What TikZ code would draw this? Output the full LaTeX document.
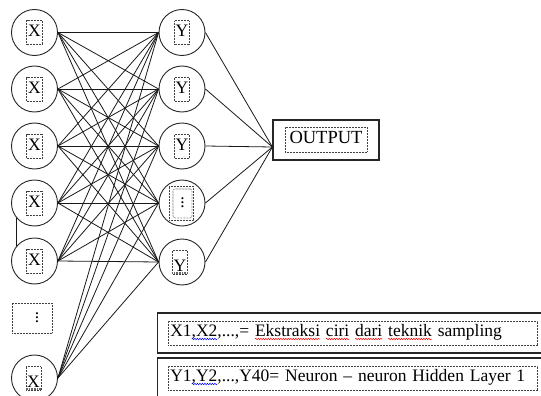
\documentclass[tikz,border=0pt]{standalone}
\usepackage{fontspec}
\setmainfont{Liberation Serif}
\usepackage{xcolor}
\usetikzlibrary{decorations.pathmorphing}

% spell-check style wavy underline
\newcommand\wavy[2]{\setbox0\hbox{#2}\rlap{\tikz[overlay, baseline=0pt, x=1pt, y=1pt]
    \draw [#1, line width=0.5pt, decorate, decoration={snake, amplitude=0.7pt, segment length=2.5pt}]
    (0,-3) -- (\the\wd0,-3);}#2}

\tikzset{
    neuron/.style={circle, draw=black!85, line width=0.9pt, minimum size=46pt, inner sep=0pt},
    tag/.style={draw=black!75, line width=0.6pt, dash pattern=on 0.6pt off 0.9pt,
                inner xsep=1pt, inner ysep=2pt, text height=14pt, text depth=6pt, minimum width=14pt},
    lowtag/.style={tag, text height=19pt, text depth=1pt},
    strip/.style={line width=2.5pt, black!60, dash pattern=on 0.8pt off 0.8pt},
    link/.style={black!90, line width=0.8pt},
    outbox/.style={draw=black!85, line width=1.2pt, minimum width=106pt, minimum height=40pt},
    legend/.style={draw=black!85, line width=1.2pt, minimum width=413pt, minimum height=40pt, anchor=west},
    legtext/.style={tag, anchor=west, text width=365pt, align=left, inner xsep=2pt,
                    text height=12pt, text depth=6pt, inner ysep=3pt}
}

\begin{document}
\begin{tikzpicture}[x=1pt, y=-1pt, font=\fontsize{17.5}{20}\selectfont]
        \clip (0,0) rectangle (541,396);

%       input layer
        \foreach \i/\y in {1/32.5, 2/89, 3/146, 4/203, 5/261}
        {
            \node [neuron] (x\i) at (34.5,\y) {};
            \node [tag, minimum width=16pt] (tx\i) at (x\i) {X};
        }
        \node [tag, minimum width=40pt, minimum height=30pt] (xdots) at (32,318) {\hspace*{10pt}$\vdots$};
        \node [neuron] (x6) at (34.5,378) {};
        \node [lowtag] (tx6) at ([xshift=-1pt]x6) {X};
        \draw [strip] ([yshift=1.5pt]tx6.south west) -- ([yshift=1.5pt]tx6.south east);

%       hidden layer
        \foreach \j/\y in {1/32.5, 2/89, 3/146, 4/203, 5/262}
        {
            \node [neuron] (y\j) at (182,\y) {};
        }
        \foreach \j in {1,2,3}
            \node [tag] (ty\j) at (y\j) {Y};
        \node [tag, minimum width=24pt, minimum height=34pt] (ty4) at (181,203) {};
        \node [tag, rounded corners=2pt, minimum width=19pt, minimum height=29pt] (ty4d) at (182.5,203.5) {$\vdots$};
        \node [lowtag] (ty5) at ([xshift=-2pt]y5) {Y};
        \draw [strip] ([yshift=1.5pt]ty5.south west) -- ([yshift=1.5pt]ty5.south east);

%       output
        \node [outbox] (out) at (326,140) {};
        \node [tag, inner xsep=2pt, minimum width=82pt, minimum height=25pt,
               font=\fontsize{18.5}{22}\selectfont] (tout) at (326,139.5) {OUTPUT};
        \coordinate (outin) at ([yshift=-7pt]out.west);

        \foreach \i in {1,...,6}
            \foreach \j in {1,...,5}
                \draw [link] (x\i.east) -- (y\j.west);
        \foreach \j in {1,...,5}
            \draw [link] (y\j.east) -- (outin);
        \draw [link] (x4.220) -- (x5.140);

%       legend
        \node [legend] (leg1) at (157,333) {};
        \node [legtext] (lt1) at (168,333) {X1\wavy{blue}{,X2},...,= \wavy{red}{Ekstraksi} \wavy{red}{ciri} \wavy{red}{dari} \wavy{red}{teknik} sampling};
        \node [legend] (leg2) at (157,378) {};
        \node [legtext] (lt2) at (168,378) {Y1\wavy{blue}{,Y2},...,Y40= Neuron – neuron Hidden Layer 1};
\end{tikzpicture}
\end{document}
